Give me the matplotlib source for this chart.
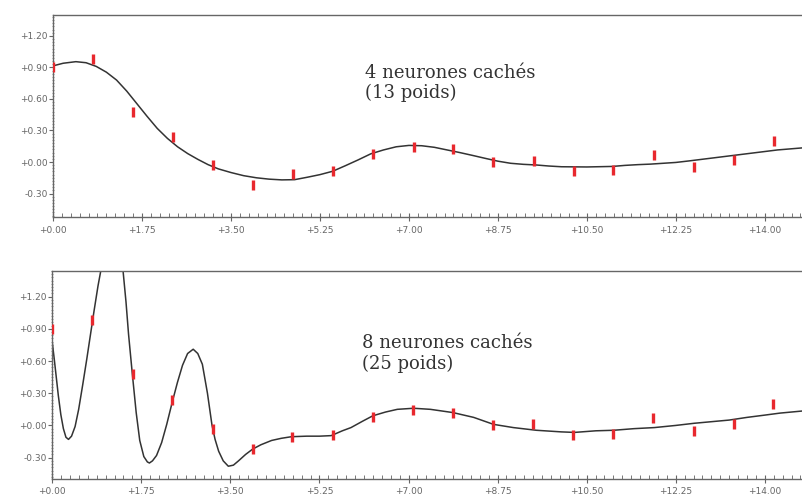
import matplotlib
matplotlib.use("Agg")
from matplotlib import pyplot as plt
from matplotlib.ticker import MultipleLocator, FuncFormatter

# training points (same in both panels)
pts_x = [0.00, 0.79, 1.58, 2.36, 3.15, 3.94, 4.72, 5.51, 6.30, 7.09,
         7.87, 8.66, 9.45, 10.24, 11.02, 11.81, 12.60, 13.39, 14.17]
pts_y = [0.90, 0.98, 0.48, 0.24, -0.03, -0.22, -0.11, -0.09, 0.08, 0.14,
         0.12, 0.00, 0.01, -0.09, -0.08, 0.065, -0.05, 0.015, 0.20]

# network output, 4 hidden neurons
c4_x = [0.00, 0.20, 0.45, 0.65, 0.85, 1.05, 1.25, 1.45, 1.65, 1.85, 2.05,
        2.25, 2.45, 2.65, 2.85, 3.05, 3.25, 3.50, 3.75, 4.00, 4.25, 4.50,
        4.75, 5.00, 5.25, 5.50, 5.75, 6.00, 6.25, 6.50, 6.75, 7.00, 7.25,
        7.50, 7.75, 8.00, 8.25, 8.50, 8.75, 9.00, 9.25, 9.50, 9.75, 10.00,
        10.50, 11.00, 11.25, 11.50, 11.75, 12.00, 12.25, 12.50, 12.75,
        13.00, 13.25, 13.50, 13.75, 14.00, 14.25, 14.50, 14.75]
c4_y = [0.915, 0.940, 0.955, 0.945, 0.910, 0.855, 0.780, 0.675, 0.555,
        0.435, 0.320, 0.225, 0.145, 0.080, 0.025, -0.025, -0.065, -0.100,
        -0.130, -0.150, -0.163, -0.170, -0.168, -0.145, -0.120, -0.088,
        -0.035, 0.020, 0.078, 0.115, 0.145, 0.158, 0.155, 0.140, 0.115,
        0.090, 0.063, 0.035, 0.008, -0.012, -0.022, -0.028, -0.038, -0.045,
        -0.047, -0.042, -0.032, -0.025, -0.020, -0.012, -0.004, 0.010,
        0.025, 0.040, 0.055, 0.070, 0.085, 0.100, 0.115, 0.125, 0.135]

# network output, 8 hidden neurons
c8_x = [0.00, 0.04, 0.08, 0.12, 0.17, 0.22, 0.27, 0.32, 0.38, 0.45, 0.52,
        0.60, 0.68, 0.75, 0.82, 0.90, 0.97, 1.05, 1.15, 1.25, 1.33, 1.39,
        1.45, 1.50, 1.57, 1.65, 1.72, 1.80, 1.87, 1.91, 1.97, 2.05, 2.15,
        2.25, 2.36, 2.46, 2.56, 2.66, 2.77, 2.86, 2.95, 3.05, 3.14, 3.20,
        3.27, 3.36, 3.46, 3.56, 3.66, 3.80, 3.94, 4.10, 4.31, 4.50, 4.70,
        5.00, 5.25, 5.48, 5.70, 5.87, 6.10, 6.30, 6.55, 6.78, 7.10, 7.43,
        7.87, 8.28, 8.67, 9.06, 9.51, 10.00, 10.26, 10.68, 11.03, 11.43,
        11.83, 12.25, 12.61, 13.00, 13.30, 13.65, 13.98, 14.30, 14.75]
c8_y = [0.78, 0.62, 0.45, 0.28, 0.10, -0.03, -0.11, -0.13, -0.10, -0.01,
        0.15, 0.38, 0.62, 0.84, 1.06, 1.30, 1.48, 1.66, 1.80, 1.78, 1.62,
        1.45, 1.15, 0.85, 0.50, 0.12, -0.14, -0.29, -0.34, -0.35, -0.33,
        -0.28, -0.16, 0.01, 0.22, 0.40, 0.56, 0.67, 0.71, 0.67, 0.57, 0.30,
        0.00, -0.13, -0.24, -0.33, -0.38, -0.37, -0.33, -0.27, -0.22, -0.18,
        -0.14, -0.12, -0.105, -0.10, -0.10, -0.095, -0.05, -0.02, 0.04, 0.09,
        0.125, 0.15, 0.16, 0.15, 0.12, 0.075, 0.01, -0.02, -0.045, -0.06,
        -0.065, -0.05, -0.045, -0.03, -0.02, 0.00, 0.02, 0.037, 0.05, 0.075,
        0.095, 0.115, 0.135]

xticks = [0.00, 1.75, 3.50, 5.25, 7.00, 8.75, 10.50, 12.25, 14.00]
yticks = [-0.30, 0.00, 0.30, 0.60, 0.90, 1.20]

fig = plt.figure(figsize=(8.03, 4.97), dpi=100)
ax1 = fig.add_axes([0.066, 0.563, 0.934, 0.407])
ax2 = fig.add_axes([0.065, 0.036, 0.935, 0.419])

def style(ax, ylim):
    ax.set_xlim(0, 14.75)
    ax.set_ylim(*ylim)
    ax.set_xticks(xticks)
    ax.set_yticks(yticks)
    ax.xaxis.set_minor_locator(MultipleLocator(0.175))
    ax.yaxis.set_minor_locator(MultipleLocator(0.03))
    ax.xaxis.set_major_formatter(FuncFormatter(lambda v, p: "%+.2f" % v))
    ax.yaxis.set_major_formatter(FuncFormatter(lambda v, p: "%+.2f" % v))
    ax.spines["right"].set_visible(False)
    for s in ("top", "left", "bottom"):
        ax.spines[s].set_color("#666666")
        ax.spines[s].set_linewidth(1.0)
    ax.tick_params(axis="x", which="major", direction="inout", length=6,
                   width=0.8, color="#666666", labelsize=6.5,
                   labelcolor="#666666", pad=3)
    ax.tick_params(axis="x", which="minor", direction="in", length=3,
                   width=0.7, color="#777777")
    ax.tick_params(axis="y", which="major", direction="out", length=3,
                   width=0.8, color="#666666", labelsize=6.5,
                   labelcolor="#666666", pad=1)
    ax.tick_params(axis="y", which="minor", direction="inout", length=2,
                   width=0.6, color="#888888")

ax1.plot(c4_x, c4_y, color="#333333", lw=1.1, zorder=2)
ax1.plot(pts_x, pts_y, ls="none", marker="|", ms=6.5, mew=2.4,
         color="#e8282e", zorder=3)
style(ax1, (-0.525, 1.40))

ax2.plot(c8_x, c8_y, color="#333333", lw=1.1, zorder=2)
ax2.plot(pts_x, pts_y, ls="none", marker="|", ms=6.5, mew=2.4,
         color="#e8282e", zorder=3)
style(ax2, (-0.50, 1.44))

fig.text(0.4545, 0.872, "4 neurones cachés\n(13 poids)", family="DejaVu Serif",
         fontsize=13, color="#333333", va="top", ha="left", linespacing=1.15)
fig.text(0.451, 0.327, "8 neurones cachés\n(25 poids)", family="DejaVu Serif",
         fontsize=13, color="#333333", va="top", ha="left", linespacing=1.15)

fig.savefig("out.png", dpi=100, facecolor="white")
